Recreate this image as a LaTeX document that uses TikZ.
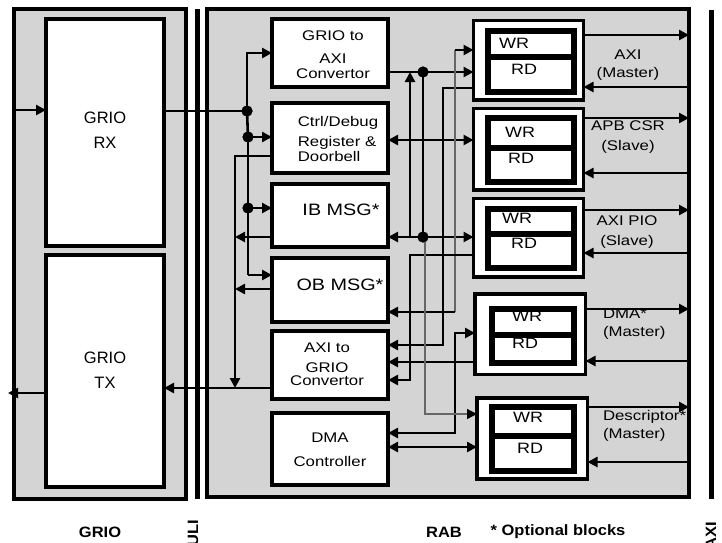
\documentclass[tikz,border=0pt]{standalone}
\usepackage{fontspec}
\setmainfont{Liberation Sans}
\newfontfamily\fa{Liberation Sans}[FakeStretch=1.2]
\newfontfamily\fb{Liberation Sans}[FakeStretch=1.1]
\usetikzlibrary{arrows.meta}
\begin{document}
\begin{tikzpicture}[x=1pt,y=-1pt,
  every node/.style={outer sep=0pt, inner sep=0pt},
  frame/.style={draw, line width=3.3pt, fill=black!17, rectangle},
  bar/.style={fill=black, rectangle},
  blk/.style={draw, line width=3.3pt, fill=white, rectangle},
  inbox/.style={draw, line width=6pt, fill=white, rectangle},
  wire/.style={line width=2.6pt},
  thinw/.style={line width=1.2pt, draw=black!60},
  arr/.style={-{Triangle[length=10pt,width=10pt]}},
  barr/.style={{Triangle[length=10pt,width=10pt]}-{Triangle[length=10pt,width=10pt]}},
  dotn/.style={circle, fill=black, minimum size=11pt},
  bigtxt/.style={font=\fontsize{16.5}{25}\selectfont, align=center},
  boxtxt/.style={font=\fa\fontsize{14}{17}\selectfont},
  msgtxt/.style={font=\fa\fontsize{16.5}{19}\selectfont},
  wrtxt/.style={font=\fa\fontsize{15}{18}\selectfont},
  ifctxt/.style={font=\fa\fontsize{14}{18}\selectfont},
  bottxt/.style={font=\fb\bfseries\fontsize{15}{18}\selectfont},
]
\useasboundingbox (0,0) rectangle (722,542);

% frames and bars
\node[frame, minimum width=172pt, minimum height=490pt] (grio) at (100,254) {};
\node[frame, minimum width=482pt, minimum height=488pt] (rab) at (448,253) {};
\node[bar, minimum width=5pt, minimum height=490pt] (uli) at (197.5,254) {};
\node[bar, minimum width=5pt, minimum height=489pt] (axib) at (711.5,254.5) {};

% GRIO blocks
\node[blk, minimum width=118pt, minimum height=227pt] (rx) at (105,132.5) {};
\node[blk, minimum width=118pt, minimum height=232pt] (tx) at (105,371) {};

% RAB left column
\node[blk, minimum width=116pt, minimum height=68pt] (g2a) at (330,53) {};
\node[blk, minimum width=116pt, minimum height=70pt] (ctrl) at (330,138) {};
\node[blk, minimum width=116pt, minimum height=63pt] (ib) at (330,215.5) {};
\node[blk, minimum width=116pt, minimum height=64pt] (ob) at (330,290) {};
\node[blk, minimum width=116pt, minimum height=68pt] (a2g) at (330,365) {};
\node[blk, minimum width=116pt, minimum height=72pt] (dma) at (330,449) {};

% RAB right column
\node[blk, minimum width=110pt, minimum height=79.5pt] (b1) at (528.5,60.25) {};
\node[inbox, minimum width=85.5pt, minimum height=61.5pt] (b1i) at (530.75,61.25) {};
\draw[line width=6pt] (b1i.west |- 0,56.5) -- (b1i.east |- 0,56.5);
\node[blk, minimum width=110pt, minimum height=81.5pt] (b2) at (528.5,149.25) {};
\node[inbox, minimum width=85.5pt, minimum height=64pt] (b2i) at (530.75,149.5) {};
\draw[line width=6pt] (b2i.west |- 0,147.5) -- (b2i.east |- 0,147.5);
\node[blk, minimum width=110pt, minimum height=78.5pt] (b3) at (528.5,237.75) {};
\node[inbox, minimum width=85.5pt, minimum height=59.5pt] (b3i) at (530.75,238.25) {};
\draw[line width=6pt] (b3i.west |- 0,233.5) -- (b3i.east |- 0,233.5);
\node[blk, minimum width=110.5pt, minimum height=80.5pt] (b4) at (530.25,334.25) {};
\node[inbox, minimum width=82pt, minimum height=54pt] (b4i) at (532.5,335.5) {};
\draw[line width=6pt] (b4i.west |- 0,334.5) -- (b4i.east |- 0,334.5);
\node[blk, minimum width=110.5pt, minimum height=81pt] (b5) at (532.25,438.5) {};
\node[inbox, minimum width=82.5pt, minimum height=64.5pt] (b5i) at (533,438.75) {};
\draw[line width=6pt] (b5i.west |- 0,435.5) -- (b5i.east |- 0,435.5);

% GRIO side connectors
\coordinate (rxin) at (12,110);
\coordinate (txout) at (8,393);
\draw[wire,arr] (rxin) -- (rx.west |- rxin);
\draw[wire,arr] (tx.west |- txout) -- (txout);

\node[dotn] (d1) at (247,111) {};
\node[dotn] (d2) at (248,137) {};
\node[dotn] (d3) at (248,208) {};
\draw[wire] (rx.east |- d1.center) -- (d1.center);
\draw[wire,arr] (d1.center) |- (g2a.west);
\draw[wire] (d1.center) -- (d2.center);
\draw[wire,arr] (d2.center) -- (ctrl.west |- d2.center);
\draw[line width=1.3pt] (d2.center) -- (d3.center);
\draw[wire,arr] (d3.center) -- (ib.west |- d3.center);
\coordinate (c1) at (248,275);
\draw[line width=1.3pt] (d3.center) -- (c1);
\draw[wire,arr] (c1) -- (ob.west |- c1);

\coordinate (v2) at (235,388);
\draw[wire,arr] (ctrl.west |- 0,156) -| (v2);
\draw[wire,arr] (ib.west |- 0,237) -- (v2 |- 0,237);
\draw[wire,arr] (ob.west |- 0,289) -- (v2 |- 0,289);
\draw[wire,arr] (a2g.west |- v2) -- (tx.east |- v2);

% middle connectors
\node[dotn] (d4) at (423,72) {};
\node[dotn] (d5) at (423,237) {};
\draw[wire,arr] (g2a.east |- d4.center) -- (b1.west |- d4.center);
\draw[wire] (d4.center) -- (d5.center);
\draw[wire,arr] (d5.center) -- (ib.east |- d5.center);
\draw[wire,arr] (d5.center) -- (b3.west |- d5.center);
\coordinate (u1) at (410,237);
\draw[wire,arr] (u1) -- (u1 |- d4.center);
\draw[wire,barr] (ctrl.east |- 0,140) -- (b2.west |- 0,140);
\coordinate (k1) at (443,345);
\draw[wire,arr] (b1.west |- 0,88) -| (k1) -- (a2g.east |- k1);
\coordinate (k2) at (455,312);
\coordinate (k3) at (455,50);
\draw[thinw] (k2) -- (k3);
\draw[wire,arr] (k2) -- (ob.east |- k2);
\draw[wire,arr] (k3) -- (b1.west |- k3);
\coordinate (k4) at (410,380);
\draw[wire,arr] (b3.west |- 0,255) -| (k4) -- (a2g.east |- k4);
\draw[wire,arr] (b4.west |- 0,362) -- (a2g.east |- 0,362);
\coordinate (k5) at (455,433);
\draw[wire,barr] (dma.east |- k5) -- (k5) |- (b4.west |- 0,333);
\draw[wire,barr] (dma.east |- 0,447) -- (b5.west |- 0,447);
\coordinate (k6) at (425,414);
\draw[thinw, -{Triangle[length=10pt,width=10pt,color=black,fill=black]}] (d5.center -| k6) -- (k6) -- (b5.west |- k6);

% right side
\foreach \b/\ya/\yb in {b1/35/87, b2/118/173, b3/210/253, b4/309/361, b5/407/462} {
  \draw[wire,arr] (\b.east |- 0,\ya) -- (rab.east |- 0,\ya);
  \draw[wire,arr] (rab.east |- 0,\yb) -- (\b.east |- 0,\yb);
}

% dots on top
\node[dotn] at (d1) {};
\node[dotn] at (d2) {};
\node[dotn] at (d3) {};
\node[dotn] at (d4) {};
\node[dotn] at (d5) {};

% texts
\node[bigtxt] (rxT) at (105,130) {GRIO\\RX};
\node[bigtxt] (txT) at (105,370) {GRIO\\TX};
\node[boxtxt, align=center] (g2aT) at (333,55) {GRIO to\\[6pt]AXI\\[-2pt]Convertor};
\node[boxtxt, align=left] (ctrlT) at (338,139) {Ctrl/Debug\\[3pt]Register \&\\[-2pt]Doorbell};
\node[msgtxt] (ibT) at (341,210) {IB MSG*};
\node[msgtxt] (obT) at (340,285) {OB MSG*};
\node[boxtxt, align=center] (a2gT) at (327,364) {AXI to\\[3pt]GRIO\\[-4pt]Convertor};
\node[boxtxt, align=center] (dmaT) at (330,450) {DMA\\[7pt]Controller};

\node[wrtxt] (b1w) at (514,43) {WR};
\node[wrtxt] (b1r) at (524,69) {RD};
\node[wrtxt] (b2w) at (520,132) {WR};
\node[wrtxt] (b2r) at (521,158) {RD};
\node[wrtxt] (b3w) at (517,218) {WR};
\node[wrtxt] (b3r) at (524,243) {RD};
\node[wrtxt] (b4w) at (527,316) {WR};
\node[wrtxt] (b4r) at (525,343) {RD};
\node[wrtxt] (b5w) at (528,417) {WR};
\node[wrtxt] (b5r) at (530,448) {RD};

\node[ifctxt, align=center] (l1) at (628,65) {AXI\\(Master)};
\node[ifctxt, align=center] (l2) at (628,137) {APB CSR\\[2pt](Slave)};
\node[ifctxt, align=center] (l3) at (627,232) {AXI PIO\\[2pt](Slave)};
\node[ifctxt, align=left, anchor=west] (l4) at (603,324) {DMA*\\(Master)};
\node[ifctxt, align=left, anchor=west] (l5) at (603,426) {Descriptor*\\(Master)};

\node[bottxt] (gl) at (100,532) {GRIO};
\node[bottxt] (rl) at (444,532) {RAB};
\node[bottxt] (ol) at (558,532) {* Optional blocks};
\node[bottxt, rotate=90, anchor=east] (ul) at (193,520) {ULI};
\node[bottxt, rotate=90, anchor=east] (al) at (711,522) {AXI};
\end{tikzpicture}
\end{document}
